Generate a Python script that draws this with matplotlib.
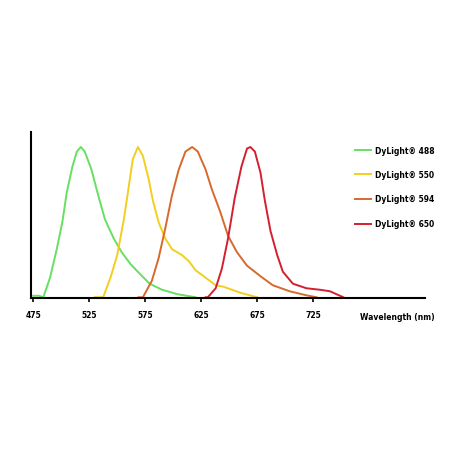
import matplotlib
matplotlib.use("Agg")
import matplotlib.pyplot as plt

# Data (normalized emission intensity vs wavelength)
green_wl = [475, 480, 484, 490, 496, 501, 505, 510, 514, 517.5, 521, 527, 533, 539, 547, 554, 562, 571, 579, 590, 604, 620]
green_v  = [0.01, 0.01, 0.0, 0.13, 0.32, 0.50, 0.70, 0.87, 0.97, 1.0, 0.97, 0.85, 0.68, 0.52, 0.39, 0.30, 0.22, 0.15, 0.09, 0.05, 0.02, 0.0]

yellow_wl = [530, 537.5, 544, 550, 556, 560, 564, 568.5, 573, 578, 582, 587, 593, 599, 608, 614, 620, 629, 638, 645, 660, 675]
yellow_v  = [0.0, 0.0, 0.13, 0.28, 0.52, 0.72, 0.92, 1.0, 0.94, 0.79, 0.64, 0.50, 0.39, 0.32, 0.28, 0.24, 0.18, 0.13, 0.08, 0.07, 0.03, 0.0]

orange_wl = [569, 573, 581, 587, 593, 599, 605, 611, 617, 622, 629, 634.5, 642, 649, 657, 666, 678, 689, 704, 719, 728]
orange_v  = [0.0, 0.0, 0.11, 0.26, 0.46, 0.68, 0.85, 0.97, 1.0, 0.97, 0.85, 0.72, 0.57, 0.41, 0.30, 0.21, 0.14, 0.08, 0.04, 0.013, 0.0]

red_wl = [629, 631, 638, 643.5, 649, 655, 661, 666, 669, 673, 678, 682, 687, 693, 698, 707, 719, 731, 740, 746, 752]
red_v  = [0.0, 0.0, 0.06, 0.19, 0.39, 0.66, 0.87, 0.99, 1.0, 0.97, 0.83, 0.64, 0.44, 0.28, 0.17, 0.09, 0.06, 0.05, 0.04, 0.02, 0.0]

series_labels = ["DyLight® 488", "DyLight® 550", "DyLight® 594", "DyLight® 650"]
xticks = [475, 525, 575, 625, 675, 725]

colors = ["#66e060", "#f2cf1e", "#d8692c", "#d31f2e"]

fig = plt.figure(figsize=(4.52, 4.52), dpi=100)
ax = fig.add_axes([31/452, (452-299)/452, (425-31)/452, (299-133)/452])

for wl, v, c in zip([green_wl, yellow_wl, orange_wl, red_wl],
                    [green_v, yellow_v, orange_v, red_v], colors):
    ax.plot(wl, v, color=c, lw=1.4, solid_joinstyle="round")

ax.set_xlim(473, 825)
ax.set_ylim(-0.005, 1.10)
ax.spines["top"].set_visible(False)
ax.spines["right"].set_visible(False)
ax.spines["left"].set_linewidth(1.5)
ax.spines["bottom"].set_linewidth(1.5)
ax.set_yticks([])
ax.set_xticks(xticks)
ax.set_xticklabels([str(t) for t in xticks], fontsize=5.5, fontweight="bold")
ax.tick_params(axis="x", direction="out", length=3, width=1.2, pad=6)

fig.text(360/452, 1 - 318/452, "Wavelength (nm)", fontsize=5.5, fontweight="bold",
         ha="left", va="center")

# Legend drawn manually
leg_y = [151, 175, 200, 225]
for lbl, c, yy in zip(series_labels, colors, leg_y):
    yf = 1 - yy/452
    fig.add_artist(plt.Line2D([355/452, 371/452], [yf, yf], color=c, lw=1.4,
                              transform=fig.transFigure))
    fig.text(375/452, yf, lbl, fontsize=5.5, fontweight="bold", ha="left", va="center")

fig.savefig("out.png", dpi=100)
